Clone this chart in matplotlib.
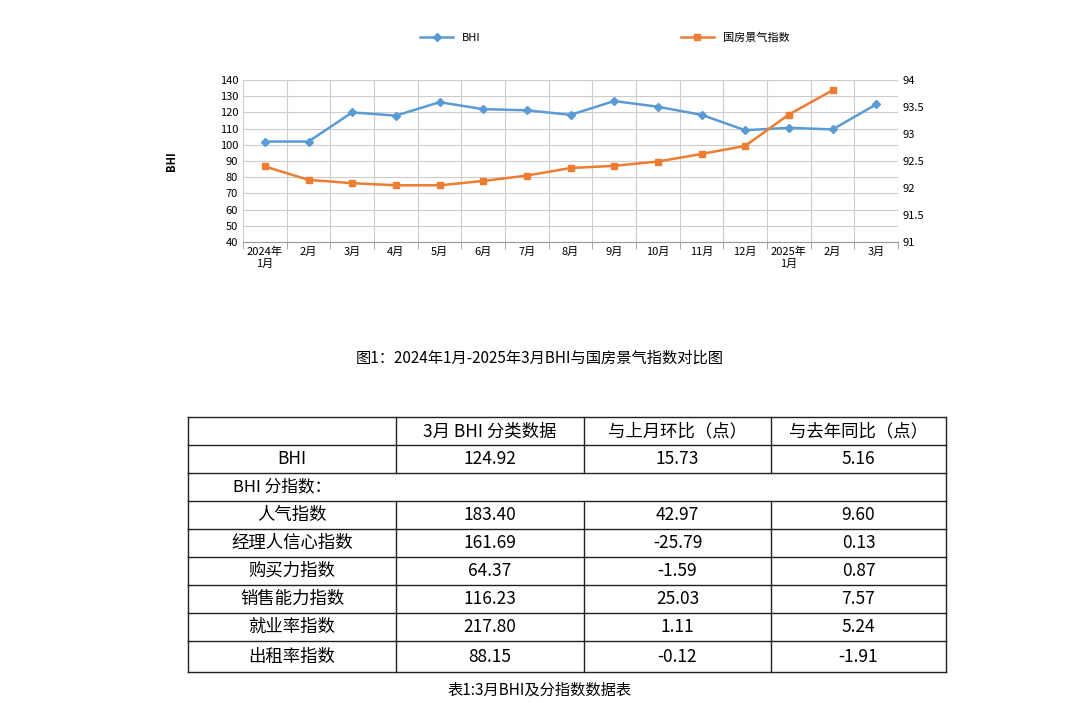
import matplotlib
matplotlib.use("Agg")
import matplotlib.pyplot as plt
import numpy as np

plt.rcParams['font.family'] = ['Noto Sans CJK SC', 'DejaVu Sans']

months = ["2024年\n1月", "2月", "3月", "4月", "5月", "6月", "7月", "8月", "9月", "10月", "11月", "12月", "2025年\n1月", "2月", "3月"]
bhi = [102, 102, 120, 118, 126.3, 122, 121.3, 118.5, 127, 123.5, 118.5, 109, 110.5, 109.5, 124.92]
housing = [92.4, 92.15, 92.09, 92.05, 92.05, 92.13, 92.23, 92.37, 92.41, 92.49, 92.63, 92.78, 93.36, 93.81]

header = ["", "3月 BHI 分类数据", "与上月环比（点）", "与去年同比（点）"]
row_names = ["BHI", "人气指数", "经理人信心指数", "购买力指数", "销售能力指数", "就业率指数", "出租率指数"]
col_data = ["124.92", "183.40", "161.69", "64.37", "116.23", "217.80", "88.15"]
col_mom = ["15.73", "42.97", "-25.79", "-1.59", "25.03", "1.11", "-0.12"]
col_yoy = ["5.16", "9.60", "0.13", "0.87", "7.57", "5.24", "-1.91"]

W, H = 1080, 724
fig = plt.figure(figsize=(W/100, H/100), dpi=100)
fig.patch.set_facecolor('white')

blue = '#5B9BD5'
orange = '#ED7D31'
ax = fig.add_axes([243/W, 1-242/H, (898-243)/W, (242-80)/H])
x = np.arange(len(months))
l1, = ax.plot(x, bhi, color=blue, marker='D', markersize=4, lw=1.8, label='BHI')
ax.set_xlim(-0.5, 14.5)
ax.set_ylim(40, 140)
ax.set_yticks(range(40, 141, 10))
ax.set_xticks(x)
ax.set_xticklabels(months, fontsize=8)
ax.set_xticks(np.arange(-0.5, 15, 1), minor=True)
ax.tick_params(axis='x', which='major', length=0)
ax.tick_params(axis='x', which='minor', length=5, color='#999999')
ax.tick_params(axis='y', labelsize=8, length=0)
ax.grid(True, axis='y', color='#cccccc', lw=0.8)
ax.grid(True, axis='x', which='minor', color='#cccccc', lw=0.8)
for s in ['top', 'right', 'left']:
    ax.spines[s].set_visible(False)
ax.spines['bottom'].set_color('#999999')
ax.set_ylabel('BHI', fontsize=8, fontweight='bold', labelpad=30)
ax2 = ax.twinx()
l2, = ax2.plot(x[:len(housing)], housing, color=orange, marker='s', markersize=5, lw=1.8, label='国房景气指数')
ax2.set_ylim(91, 94)
ax2.set_yticks([91, 91.5, 92, 92.5, 93, 93.5, 94])
ax2.set_yticklabels(['91', '91.5', '92', '92.5', '93', '93.5', '94'])
ax2.tick_params(axis='y', labelsize=8, length=0)
for s in ax2.spines.values():
    s.set_visible(False)
fig.legend([l1, l2], ['BHI', '国房景气指数'], loc='center', bbox_to_anchor=(0.56, 1-38/H),
           ncol=2, frameon=False, fontsize=8, columnspacing=18, handlelength=3)

fig.text(0.5, 1-358/H, "图1：2024年1月-2025年3月BHI与国房景气指数对比图", ha='center', va='center', fontsize=11)

# Table
tax = fig.add_axes([0, 0, 1, 1])
tax.set_xlim(0, W)
tax.set_ylim(H, 0)
tax.axis('off')
xs = [188, 396, 584, 771, 946]
ys = [417, 445, 473, 501, 529, 557, 585, 613, 641, 672]
lc = '#222222'
for yv in ys:
    tax.plot([xs[0], xs[-1]], [yv, yv], color=lc, lw=1)
for i, xv in enumerate(xs):
    for r in range(len(ys)-1):
        if r == 2 and 0 < i < len(xs)-1:
            continue
        tax.plot([xv, xv], [ys[r], ys[r+1]], color=lc, lw=1)
rows = [header, [row_names[0], col_data[0], col_mom[0], col_yoy[0]], None]
for k in range(1, len(row_names)):
    rows.append([row_names[k], col_data[k], col_mom[k], col_yoy[k]])
for r, row in enumerate(rows):
    yc = (ys[r] + ys[r+1]) / 2
    if row is None:
        tax.text(282, yc, "BHI 分指数：", ha='center', va='center', fontsize=12)
        continue
    for c, t in enumerate(row):
        tax.text((xs[c]+xs[c+1])/2, yc, t, ha='center', va='center', fontsize=12.5)
fig.text(0.5, 1-690/H, "表1:3月BHI及分指数数据表", ha='center', va='center', fontsize=11)

fig.savefig('out.png', dpi=100)
